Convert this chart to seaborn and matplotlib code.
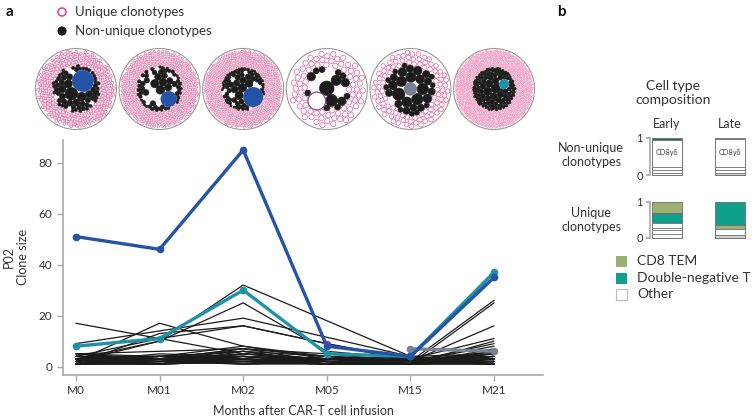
import numpy as np
import pandas as pd
import matplotlib
matplotlib.use("Agg")
import matplotlib.pyplot as plt
import seaborn as sns
from matplotlib.patches import Circle, Rectangle
from matplotlib.collections import PatchCollection

sns.set_theme(style="ticks")
plt.rcParams["font.family"] = ["Lato", "DejaVu Sans"]

nan = np.nan
# ---------------- data ----------------
timepoints = ["M0", "M01", "M02", "M05", "M15", "M21"]
blue_clone = [51, 46, 85, 8, 4, 35]
teal_clone = [8, 11, 30, 5, 4, 37]
gray_clone = [nan, nan, nan, nan, 7, 6]
purple_clone = [nan, nan, nan, 9, nan, nan]

background_clones = [
    [17, nan, 5, 3, 2, 3],
    [2, 17, 8, 4, 2, 2],
    [2, 10, 32, nan, 4, 5],
    [3, 10, 25, 6, 3, 4],
    [9, 14, 19, nan, 4, 2],
    [1, 13, 16, 9, 3, 3],
    [4, 11, 16, nan, 2, 1],
    [5, 6, 7, 4, 2, 26],
    [3, 4, 8, 3, 1, 25],
    [2, 3, 6, 2, 2, 16],
    [1, 2, 5, 3, 3, 11],
    [2, 1, 4, 2, 1, 10],
    [3, 3, 3, 2, 2, 9],
    [1, 2, 2, 1, 2, 8],
    [4, 4, 4, 3, 1, 7],
    [5, 2, 3, 2, 1, 6],
    [2, 3, 7, 5, 2, 5],
    [1, 1, 2, 1, 1, 5],
    [3, 2, 1, 2, 3, 4],
    [2, 4, 3, 1, 2, 4],
    [1, 3, 4, 2, 1, 3],
    [4, 1, 2, 3, 2, 3],
    [2, 2, 3, 1, 1, 2],
    [3, 1, 5, 2, 2, 2],
    [1, 2, 1, 1, 1, 1],
    [5, 3, 2, 4, 1, 2],
    [2, 4, 6, 1, 2, 1],
    [1, 1, 3, 2, 3, 1],
    [3, 2, 4, 1, 1, 3],
    [2, 1, 2, 2, 2, 2],
    [4, 3, 5, 3, 4, 1],
    [1, 2, 3, 1, 1, 4],
    [2, 3, 1, 2, 2, 2],
    [3, 4, 2, 1, 3, 1],
    [1, 1, 4, 3, 2, 6],
    [2, 2, 2, 2, 1, 3],
    [5, 4, 3, 1, 2, 1],
    [1, 3, 2, 2, 1, 2],
    [2, 1, 6, 4, 3, 5],
    [3, 2, 3, 1, 2, 1],
    [2, 5, 4, 2, 1, 2],
    [1, 2, 2, 3, 1, 1],
    [4, 3, 7, 2, 2, 3],
    [1, 4, 3, 1, 2, 2],
    [2, 1, 2, 1, 1, 4],
]

# bubble (clonotype repertoire) data per timepoint
unique_counts = [364, 638, 784, 100, 125, 1380]
black_sizes = [
    [17, 8, 7, 6, 5, 4, 3, 2, 1],
    [13, 12, 10, 9, 8, 7, 6, 5, 4, 3, 2, 1],
    [16, 14, 12, 10, 9, 8, 7, 6, 5, 4, 3, 2, 1],
    [6, 4, 3, 2, 1],
    [6, 5, 4, 3, 2, 1],
    [30, 25, 20, 18, 16, 15, 12, 10, 9, 8, 7, 6, 5, 4, 3, 2, 1],
]
black_counts = [
    [1, 1, 1, 1, 2, 3, 6, 15, 30],
    [1, 1, 1, 1, 1, 1, 2, 3, 4, 7, 20, 15],
    [1, 1, 1, 1, 1, 1, 1, 2, 3, 4, 10, 25, 20],
    [1, 1, 1, 3, 8],
    [1, 2, 3, 5, 10, 10],
    [1, 1, 1, 1, 1, 1, 2, 2, 2, 3, 3, 4, 8, 12, 30, 40, 20],
]
white_sizes = [[3, 2], [10, 9, 8, 7, 6, 5, 4, 3], [8, 6, 5, 4, 3, 2], [4, 3], [2], []]
white_counts = [[1, 4], [1, 1, 1, 2, 2, 2, 2, 3], [1, 1, 1, 2, 2, 2], [2, 2], [1], []]
bubble_highlight = ["blue", "blue", "blue", "purple", "gray", "teal"]

# cell type composition (bottom -> top fractions)
nu_early = [0.06, 0.07, 0.08, 0.745, 0.045]
nu_early_types = ["Other", "Other", "Other", "CD8gd", "DNdark"]
nu_late = [0.06, 0.07, 0.08, 0.75, 0.04]
nu_late_types = ["Gray", "Other", "Other", "CD8gd", "CD8 TEM"]
u_early = [0.12, 0.10, 0.06, 0.15, 0.26, 0.31]
u_early_types = ["Other", "Other", "Other", "Other", "Double-negative T", "CD8 TEM"]
u_late = [0.09, 0.15, 0.12, 0.64]
u_late_types = ["Gray", "Other", "CD8 TEM", "Double-negative T"]
legend_types = ["CD8 TEM", "Double-negative T", "Other"]

# ---------------- styles ----------------
W, H = 752, 418
TXT = "#333333"
AXC = "#a9a9a9"
PINK = "#E5488F"
BLACK = "#1c1c1c"
series_colors = {"purple": "#7D4E9E", "gray": "#7B8193", "teal": "#1E93A6", "blue": "#2453A8"}
type_colors = {"Other": "#ffffff", "CD8gd": "#ffffff", "Gray": "#cfcfcf",
               "CD8 TEM": "#9DB073", "Double-negative T": "#0FA08C", "DNdark": "#22705A"}

fig = plt.figure(figsize=(W / 100, H / 100), dpi=100)
fig.patch.set_facecolor("white")


def fx(x):
    return x / W


def fy(y):
    return 1 - y / H


# overlay axes in pixel coordinates
ax_o = fig.add_axes([0, 0, 1, 1])
ax_o.set_xlim(0, W)
ax_o.set_ylim(H, 0)
ax_o.set_axis_off()
ax_o.patch.set_alpha(0)

# ---------------- line chart ----------------
XL = (-0.155, 5.585)
ax = fig.add_axes([fx(63), fy(375), 480 / W, 235 / H])
ax.patch.set_alpha(0)
rows = [(k, t, v) for k, vals in enumerate(background_clones) for t, v in enumerate(vals) if not np.isnan(v)]
bg_df = pd.DataFrame(rows, columns=["clone", "t", "size"])
sns.lineplot(data=bg_df, x="t", y="size", units="clone", estimator=None, color="#1b1b1b",
             lw=0.9, ax=ax, legend=False)

hl = {"purple": purple_clone, "gray": gray_clone, "teal": teal_clone, "blue": blue_clone}
hrows = [(name, t, v) for name, vals in hl.items() for t, v in enumerate(vals) if not np.isnan(v)]
hl_df = pd.DataFrame(hrows, columns=["series", "t", "size"])
sns.lineplot(data=hl_df, x="t", y="size", hue="series", hue_order=["purple", "gray", "teal", "blue"],
             palette=series_colors, estimator=None, lw=2.4, marker="o", markersize=5.5,
             markeredgewidth=0, legend=False, ax=ax)

ax.set_xlim(*XL)
ax.set_ylim(-3.3, 88.9)
ax.set_xticks(range(len(timepoints)), timepoints)
ax.set_yticks([0, 20, 40, 60, 80])
ax.set_xlabel("")
ax.set_ylabel("")
for sp in ["top", "right"]:
    ax.spines[sp].set_visible(False)
for sp in ["left", "bottom"]:
    ax.spines[sp].set_color(AXC)
    ax.spines[sp].set_linewidth(1.2)
ax.tick_params(colors=AXC, labelcolor=TXT, length=4, width=1, labelsize=8.5)

fig.text(fx(16), fy(257), "P02\nClone size", rotation=90, ha="center", va="center",
         size=9, color=TXT, linespacing=1.15)
fig.text(fx(303), fy(411), "Months after CAR-T cell infusion", ha="center", va="center",
         size=9, color=TXT)


# ---------------- bubble packs ----------------
def xpix(i):
    return 63 + (i - XL[0]) * 480 / (XL[1] - XL[0])


def pack(radii, first_pos, Rmax):
    n = len(radii)
    pos = np.zeros((n, 2))
    pos[0] = first_pos
    placed = [0]
    order = [0] + list(np.argsort(-radii[1:], kind="stable") + 1)
    ang = np.linspace(0, 2 * np.pi, 90, endpoint=False)
    dirs = np.stack([np.cos(ang), np.sin(ang)], -1)
    for idx in order[1:]:
        r = radii[idx]
        P = pos[placed]
        Rr = radii[placed]
        cand = (P[:, None, :] + (Rr[:, None, None] + r + 0.02) * dirs[None]).reshape(-1, 2)
        cand = cand[np.linalg.norm(cand, axis=1) + r <= Rmax]
        d = np.linalg.norm(cand[:, None, :] - P[None, :, :], axis=2) - (Rr[None, :] + r)
        ok = (d >= -1e-6).all(axis=1)
        cand = cand[ok]
        if len(cand) == 0:
            pos[idx] = (0, 0)
        else:
            pos[idx] = cand[np.argmin(np.linalg.norm(cand, axis=1))]
        placed.append(idx)
    return pos


def fill_uniques(pos, radii, s, Rmax):
    step = s / 3.0
    g = np.arange(-Rmax, Rmax + step, step)
    gx, gy = np.meshgrid(g, g)
    cand = np.stack([gx.ravel(), gy.ravel()], -1)
    rn = np.linalg.norm(cand, axis=1)
    free = rn + s <= Rmax
    for p, r in zip(pos, radii):
        free &= np.linalg.norm(cand - p, axis=1) >= r + s + 0.05
    cand = cand[free]
    rn = rn[free]
    order = np.argsort(rn, kind="stable")
    cand = cand[order]
    alive = np.ones(len(cand), bool)
    out = []
    lim2 = (2 * s + 0.05) ** 2
    for j in range(len(cand)):
        if not alive[j]:
            continue
        p = cand[j]
        out.append(p)
        d2 = ((cand[j:] - p) ** 2).sum(1)
        alive[j:][d2 < lim2] = False
    return np.array(out)


R = 40.5
CY = 89
first_offsets = [(7, -8), (9, 10), (10, 8), (-10, 12), (0, 0), (10, -5)]
for i in range(len(timepoints)):
    cx = xpix(i)
    hname = bubble_highlight[i]
    hval = hl[hname][i]
    bl = np.repeat(black_sizes[i], black_counts[i]).astype(float)
    wh = np.repeat(white_sizes[i], white_counts[i]).astype(float) if white_sizes[i] else np.array([])
    total = unique_counts[i] + bl.sum() + wh.sum() + hval
    s = R * np.sqrt(0.8 / total)
    sizes = np.concatenate([[hval], bl, wh])
    kinds = ["h"] + ["b"] * len(bl) + ["w"] * len(wh)
    radii = s * np.sqrt(sizes)
    pos = pack(radii, np.array(first_offsets[i], float), R - 1.0)

    upts = fill_uniques(pos, radii, s, R - 0.6)
    pinks = [Circle((cx + p[0], CY + p[1]), s * 0.9) for p in upts]
    ax_o.add_collection(PatchCollection(pinks, facecolor="white", edgecolor=PINK,
                                        linewidth=min(0.42, 0.27 * s)))

    blacks, whites, hcirc = [], [], None
    for kind, p, r in zip(kinds, pos, radii):
        if kind == "b":
            blacks.append(Circle((cx + p[0], CY + p[1]), r))
        elif kind == "w":
            whites.append(Circle((cx + p[0], CY + p[1]), r * 0.95))
        else:
            hcirc = (p, r)
    ax_o.add_collection(PatchCollection(whites, facecolor="white", edgecolor="#f3d6e3",
                                        linewidth=0.3))
    ax_o.add_collection(PatchCollection(blacks, facecolor=BLACK, edgecolor=BLACK,
                                        linewidth=0.45))
    p, r = hcirc
    if hname == "purple":
        ax_o.add_patch(Circle((cx + p[0], CY + p[1]), r, facecolor="white",
                              edgecolor=series_colors["purple"], lw=0.9))
    else:
        ax_o.add_patch(Circle((cx + p[0], CY + p[1]), r, facecolor=series_colors[hname],
                              edgecolor="none"))
    ax_o.add_patch(Circle((cx, CY), R, fill=False, edgecolor="#9a9a9a", lw=0.8))

# legend for panel a
ax_o.add_patch(Circle((62, 12), 4.0, facecolor="white", edgecolor=PINK, lw=1.2))
ax_o.add_patch(Circle((62, 31), 4.6, facecolor=BLACK, edgecolor="none"))
fig.text(fx(75), fy(12), "Unique clonotypes", size=9.5, va="center", color=TXT)
fig.text(fx(75), fy(31), "Non-unique clonotypes", size=9.5, va="center", color=TXT)
fig.text(fx(6), fy(12), "a", size=11, weight="bold", va="center", color="#111")
fig.text(fx(557), fy(12), "b", size=11, weight="bold", va="center", color="#111")


# ---------------- panel b: stacked composition bars ----------------
def stacked(ax_b, e_vals, e_types, l_vals, l_types, label_gd):
    ce, cl = np.cumsum(e_vals), np.cumsum(l_vals)
    n = max(len(ce), len(cl))
    for j in range(n - 1, -1, -1):
        he = ce[j] if j < len(ce) else 0.0
        hlv = cl[j] if j < len(cl) else 0.0
        col_e = type_colors[e_types[j]] if j < len(ce) else "#ffffff"
        col_l = type_colors[l_types[j]] if j < len(cl) else "#ffffff"
        sns.barplot(x=["Early", "Late"], y=[he, hlv], hue=["Early", "Late"],
                    palette=[col_e, col_l], order=["Early", "Late"], hue_order=["Early", "Late"],
                    width=0.47, dodge=False, saturation=1, edgecolor="#6e6e6e", linewidth=0.6,
                    legend=False, ax=ax_b)
    ax_b.set_xlim(-0.27, 1.286)
    ax_b.set_ylim(0, 1)
    ax_b.set_yticks([0, 1], ["0", "1"])
    ax_b.set_xticks([])
    ax_b.set_xlabel("")
    ax_b.set_ylabel("")
    for sp in ["top", "right", "bottom"]:
        ax_b.spines[sp].set_visible(False)
    ax_b.spines["left"].set_color(AXC)
    ax_b.spines["left"].set_linewidth(1.2)
    ax_b.tick_params(colors=AXC, labelcolor=TXT, length=3, labelsize=8, pad=2)
    ax_b.patch.set_alpha(0)
    if label_gd:
        for xi in (0, 1):
            ax_b.text(xi, 0.62, "CD8γδ", ha="center", va="center", size=5.2, color="#444")
    for c in ax_b.patches:
        c.set_clip_on(False)


ax_nu = fig.add_axes([fx(650), fy(175), 98 / W, 37 / H])
stacked(ax_nu, nu_early, nu_early_types, nu_late, nu_late_types, True)
ax_u = fig.add_axes([fx(650), fy(238), 98 / W, 36 / H])
stacked(ax_u, u_early, u_early_types, u_late, u_late_types, False)

fig.text(fx(673), fy(93), "Cell type\ncomposition", ha="center", va="center", size=10,
         color=TXT, linespacing=1.2)
fig.text(fx(667), fy(124), "Early", ha="center", va="center", size=9, color=TXT)
fig.text(fx(730), fy(124), "Late", ha="center", va="center", size=9, color=TXT)
fig.text(fx(591), fy(155), "Non-unique\nclonotypes", ha="center", va="center", size=9,
         color=TXT, linespacing=1.2)
fig.text(fx(591), fy(220), "Unique\nclonotypes", ha="center", va="center", size=9,
         color=TXT, linespacing=1.2)

for k, (name, yy) in enumerate(zip(legend_types, [261, 278, 294])):
    ax_o.add_patch(Rectangle((616, yy - 5.5), 11, 11, facecolor=type_colors[name],
                             edgecolor="#bdbdbd" if name == "Other" else "none", lw=0.8))
    fig.text(fx(637), fy(yy), name, va="center", size=10, color=TXT)

fig.savefig("out.png", dpi=100, facecolor="white")
